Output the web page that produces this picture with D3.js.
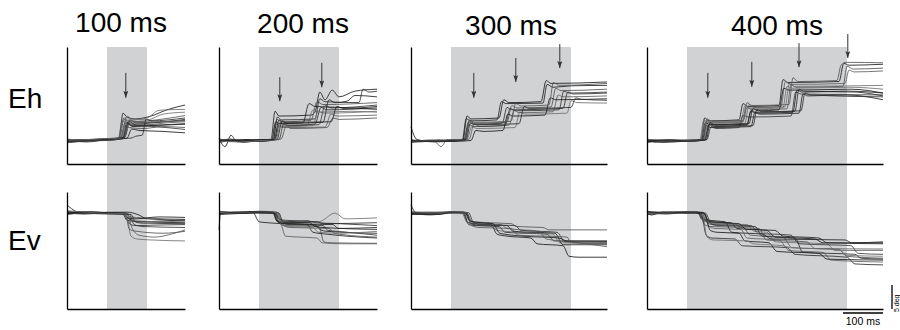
<!DOCTYPE html>
<html>
<head>
<meta charset="utf-8">
<script src="https://cdn.jsdelivr.net/npm/d3@7"></script>
<style>
  body { margin: 0; background: #fff; }
  svg { display: block; font-family: "Liberation Sans", Arial, sans-serif; }
  .trace { fill: none; stroke-width: 0.85; stroke-linejoin: round; }
  .axis path { stroke: #000; stroke-width: 1.3; }
</style>
</head>
<body>
<div id="chart"></div>
<script>
// stimulus durations (ms), one column of panels each
const durations = [100, 200, 300, 400];
const titles = ['100 ms', '200 ms', '300 ms', '400 ms'];
const rowLabels = ['Eh', 'Ev'];

// arrows: [time ms, top deg, bottom deg]
const arrows = [
  [[47, 14.2, 9.0]],
  [[52, 13.3, 8.3], [157, 16.3, 11.2]],
  [[57, 14.2, 9.0], [162, 17.3, 12.3], [272, 20.2, 15.2]],
  [[52, 14.2, 9.0], [162, 16.5, 11.3], [280, 20.4, 15.4], [402, 22.3, 17.3]]
];

// horizontal eye position (deg), traces as [ms, deg]
const eh100 = [
  [[-100,-0.3],[-50,0],[0,0.2],[30,0.6],[40,5.8],[50,5.0],[70,4.6],[110,5.2],[150,6.5],[195,7.5]],
  [[-100,0],[-40,0.3],[0,0.4],[32,0.5],[42,4.5],[55,4],[100,4.2],[195,5.3]],
  [[-100,0.2],[-60,0.1],[0,0.5],[35,0.7],[46,4.0],[60,3.5],[120,3.8],[195,4.5]],
  [[-100,-0.2],[-30,0.1],[10,0.4],[38,0.8],[50,5.2],[62,4.6],[100,4.4],[140,5.6],[195,6.0]],
  [[-100,0.1],[-50,-0.2],[0,0.3],[40,0.5],[52,3.5],[65,3.0],[110,3.2],[195,3.5]],
  [[-100,-0.4],[-60,0],[0,0.1],[28,0.4],[38,4.2],[48,3.6],[100,3.4],[150,3.8],[195,4.0]],
  [[-100,0.3],[-20,0.2],[20,0.5],[45,0.8],[58,4.4],[70,3.8],[195,4.3]],
  [[-100,0],[-50,0.3],[0,0.2],[50,0.6],[62,2.5],[80,2.2],[140,2.0],[195,1.7]],
  [[-100,-0.1],[-40,0.2],[10,0.5],[35,0.6],[44,3.2],[55,2.8],[90,2.6],[140,3.0],[195,2.8]],
  [[-100,0.2],[-70,0],[0,0.4],[60,0.6],[72,1.0],[88,1.2],[98,4.6],[110,4.2],[195,4.8]],
  [[-100,0],[-30,0.3],[15,0.2],[36,0.6],[48,5.0],[58,4.4],[100,4.8],[130,6.4],[195,6.6]],
  [[-100,-0.2],[-50,0.1],[0,0.3],[40,0.7],[50,3.8],[62,3.2],[195,3.6]],
  [[-100,0.4],[-60,0.2],[-20,0.5],[30,0.5],[42,4.8],[52,4.3],[100,4.0],[195,4.2]],
  [[-100,0],[0,0.2],[42,0.6],[55,4.0],[75,3.2],[120,3.0],[195,2.4]]
];
const eh200 = [
  [[-100,0.5],[-85,-1.2],[-70,1.2],[-55,-0.2],[-30,0.3],[0,0],[30,0.2],[40,6.2],[50,5.2],[130,5.4],[140,6],[152,10.2],[165,8.6],[183,10.6],[200,9.2],[240,10.4],[295,10.8]],
  [[-100,0],[-60,0.2],[0,-0.1],[35,0.2],[45,4.5],[55,4.0],[130,4.3],[145,8.2],[160,7.6],[295,8.0]],
  [[-100,-0.2],[-40,0.1],[0,0.2],[40,0.3],[52,3.8],[65,3.3],[140,3.5],[155,7.0],[170,6.5],[295,6.9]],
  [[-100,0.3],[-50,0],[0,0.1],[30,0.4],[42,3.6],[55,3.0],[120,3.2],[135,6.5],[150,6.0],[230,6.2],[295,6.0]],
  [[-100,0],[-70,0.4],[-40,-0.3],[0,0.1],[45,0.3],[58,4.2],[70,3.7],[160,3.9],[175,8.6],[190,8.0],[220,8.3],[240,9.5],[295,9.2]],
  [[-100,-0.3],[-50,0.2],[0,0.2],[38,0.2],[48,3.2],[60,2.8],[165,2.9],[180,5.6],[195,5.2],[295,5.4]],
  [[-100,0.2],[0,0],[50,0.3],[62,3.6],[75,3.2],[150,3.4],[165,7.4],[180,6.9],[295,7.5]],
  [[-100,0],[-30,0.3],[0,0],[32,0.1],[42,4.0],[52,3.6],[110,3.8],[125,7.8],[140,7.2],[200,7.0],[295,6.6]],
  [[-100,0.4],[-60,0.1],[0,0.2],[55,0.4],[68,3.0],[80,2.6],[170,2.8],[185,4.8],[200,4.5],[295,4.8]],
  [[-100,-0.1],[-20,0.2],[36,0.3],[46,5.0],[56,4.4],[140,4.6],[152,8.8],[165,8.2],[250,8.0],[260,10.8],[275,10.2],[295,10.4]],
  [[-100,0],[-50,-0.2],[0,0.1],[42,0.2],[54,3.4],[66,3.0],[135,3.2],[148,6.2],[162,5.8],[295,6.2]],
  [[-100,0.2],[-40,0],[0,0.3],[38,0.3],[50,4.4],[62,3.9],[180,4.0],[195,7.2],[210,6.8],[295,7.2]]
];
const eh300 = [
  [[-100,2.9],[-85,0.3],[-60,0],[-30,0.2],[0,0],[30,0.2],[40,5.2],[50,4.6],[120,4.8],[132,8.6],[145,8.0],[225,8.2],[238,12.6],[250,12.0],[390,12.3]],
  [[-100,0],[-40,-0.2],[-25,-1.2],[-10,0.2],[35,0.1],[46,4.2],[58,3.7],[140,3.9],[152,7.4],[165,6.9],[250,7.1],[262,11.0],[275,10.5],[390,10.8]],
  [[-100,-0.2],[-50,0.2],[0,0],[32,0.2],[44,4.0],[55,3.5],[128,3.7],[140,7.0],[152,6.5],[280,6.8],[292,10.2],[305,9.8],[390,10.0]],
  [[-100,0.2],[-60,-0.1],[0,0.1],[40,0.3],[52,3.0],[64,2.6],[160,2.8],[172,6.0],[185,5.6],[290,5.8],[300,8.4],[315,8.0],[390,7.9]],
  [[-100,0],[-50,0.1],[0,0.2],[28,0.1],[38,4.6],[50,4.2],[115,4.4],[126,8.2],[138,7.8],[230,7.9],[240,11.8],[255,11.2],[300,11.5],[390,11.6]],
  [[-100,0.1],[-30,-0.2],[0,0],[45,0.3],[58,3.6],[70,3.1],[145,3.3],[158,6.4],[170,5.9],[255,6.1],[268,9.6],[280,9.2],[390,9.4]],
  [[-100,-0.3],[-40,0],[0,0.2],[34,0.2],[45,3.4],[58,3.0],[135,3.2],[148,6.8],[160,6.3],[270,6.5],[282,10.4],[295,10.0],[390,10.2]],
  [[-100,0.2],[-60,0],[0,-0.1],[50,0.1],[62,2.2],[80,2.0],[130,2.2],[142,5.6],[155,5.2],[235,5.4],[248,9.0],[262,8.6],[390,8.8]],
  [[-100,0],[-20,0.1],[36,0.2],[46,4.4],[58,3.9],[150,4.1],[162,7.8],[175,7.3],[245,7.5],[256,12.2],[270,11.6],[390,12.0]],
  [[-100,0.1],[-50,-0.1],[0,0.1],[38,0.3],[49,3.8],[60,3.4],[170,3.6],[183,7.2],[195,6.8],[300,7.0],[312,9.0],[325,8.7],[390,8.5]]
];
const eh400 = [
  [[-100,0.3],[-80,-0.2],[-50,0.2],[0,0],[35,0.1],[44,4.8],[55,4.2],[130,4.4],[140,7.8],[152,7.2],[230,7.4],[240,12.8],[252,12.2],[380,12.4],[392,16.2],[405,15.8],[490,16.0]],
  [[-100,-0.4],[-60,0.1],[0,0.1],[40,0.2],[50,4.2],[62,3.8],[140,4.0],[150,7.0],[162,6.5],[250,6.7],[260,11.8],[272,11.2],[390,11.4],[400,15.6],[415,15.0],[490,15.2]],
  [[-100,0.2],[-40,0],[0,-0.1],[45,0.2],[56,3.6],[68,3.1],[150,3.3],[160,6.4],[172,6.0],[270,6.2],[280,10.8],[292,10.4],[420,10.2],[490,9.4]],
  [[-100,0],[-60,0.2],[0,0.2],[32,0.2],[42,4.4],[52,3.9],[135,4.1],[145,7.4],[158,6.9],[245,7.1],[256,12.0],[268,11.4],[490,11.6]],
  [[-100,0.4],[-50,-0.1],[0,0.1],[38,0.1],[48,3.2],[60,2.8],[160,3.0],[170,6.0],[182,5.6],[280,5.8],[290,9.8],[302,9.4],[400,9.6],[490,8.6]],
  [[-100,-0.2],[-30,0.2],[0,0],[42,0.3],[53,4.0],[64,3.5],[145,3.7],[155,7.6],[167,7.0],[235,7.2],[246,12.4],[258,11.8],[395,12.0],[405,14.8],[418,14.4],[490,14.6]],
  [[-100,0.1],[-50,0],[0,0.2],[50,0.3],[60,3.0],[72,2.6],[130,2.8],[140,5.4],[152,5.0],[260,5.2],[272,10.2],[285,9.8],[490,9.6]],
  [[-100,0],[-60,-0.3],[0,0],[36,0.2],[46,3.8],[58,3.4],[155,3.6],[165,6.8],[178,6.3],[230,6.5],[242,11.0],[255,10.6],[410,10.8],[490,10.0]],
  [[-100,0.2],[-40,0.1],[0,0],[40,0.2],[50,4.6],[62,4.1],[140,4.3],[150,8.0],[162,7.4],[255,7.6],[265,13.2],[277,12.4],[375,12.6],[385,15.8],[398,16.4],[490,16.3]],
  [[-100,-0.1],[-50,0.2],[0,0.1],[44,0.3],[55,3.4],[67,3.0],[165,3.2],[175,6.6],[188,6.1],[285,6.3],[295,10.0],[308,9.6],[490,9.2]],
  [[-100,0.3],[0,0.1],[34,0.1],[44,4.2],[56,3.7],[138,3.9],[148,7.2],[160,6.7],[240,6.9],[250,11.4],[262,11.0],[410,11.2],[490,10.8]],
  [[-100,0],[-40,0.2],[0,0],[48,0.2],[58,3.8],[70,3.3],[150,3.5],[160,6.2],[172,5.8],[265,6.0],[275,10.6],[288,10.2],[400,10.4],[490,10.0]]
];

// vertical eye position (deg)
const ev100 = [
  [[-100,1.7],[-70,0.2],[0,0],[40,-0.1],[55,-1.2],[80,-1.8],[195,-2.0]],
  [[-100,0],[-40,0.2],[0,0.1],[45,0],[58,-0.8],[90,-1.0],[195,-1.3]],
  [[-100,0.3],[-50,0],[0,-0.2],[42,-0.2],[56,-2.2],[70,-2.6],[120,-2.5],[195,-2.4]],
  [[-100,-0.2],[-30,0.1],[0,0],[48,-0.1],[60,-4.8],[75,-5.4],[110,-5.6],[195,-5.8]],
  [[-100,0.1],[-60,-0.2],[0,0],[38,0],[50,-1.5],[80,-1.8],[150,-1.6],[195,-1.4]],
  [[-100,0.4],[-40,0],[10,0.1],[50,0],[62,-3.0],[80,-4.6],[120,-5.0],[160,-4.4],[195,-3.5]],
  [[-100,-0.3],[-50,0.1],[0,-0.1],[55,-0.2],[68,-2.4],[90,-2.8],[195,-3.0]],
  [[-100,0.2],[0,0.1],[40,0],[52,-1.0],[70,-1.2],[130,-0.8],[195,-0.9]],
  [[-100,0],[-50,-0.1],[0,0.2],[45,0.1],[56,-3.4],[75,-3.8],[140,-4.2],[195,-3.8]],
  [[-100,-0.1],[-20,0],[30,-0.2],[60,-0.3],[72,-1.9],[90,-2.1],[195,-2.2]],
  [[-100,0.5],[-60,0.2],[0,0],[44,-0.1],[54,-2.0],[66,-1.6],[120,-1.8],[195,-1.7]],
  [[-100,0],[-40,0.3],[0,0.1],[50,0.2],[80,-0.4],[100,-1.2],[195,-1.5]]
];
const ev200 = [
  [[-100,-3.5],[-96,0.1],[-60,0],[0,0.2],[36,0.1],[46,-1.8],[60,-2.2],[140,-2.4],[152,-3.4],[170,-3.8],[295,-4.2]],
  [[-100,0],[-50,0.2],[0,0.3],[40,0.2],[52,-2.2],[65,-2.6],[150,-2.8],[162,-6.0],[180,-6.2],[295,-6.3]],
  [[-100,0.2],[-40,0],[0,0.1],[42,0],[54,-1.4],[70,-1.8],[120,-1.6],[140,-2.0],[200,-2.2],[295,-2.6]],
  [[-100,-0.2],[-60,0.1],[-10,0.2],[38,0.2],[50,-1.6],[70,-2.0],[150,-1.8],[190,0.0],[215,-1.2],[295,-1.0]],
  [[-100,0.4],[-50,0],[-15,0.1],[0,-1.8],[20,-2.0],[60,-2.2],[120,-2.4],[135,-4.0],[170,-4.4],[295,-5.2]],
  [[-100,0],[-30,0.2],[0,0.4],[45,0.2],[58,-3.0],[66,-4.8],[100,-5.0],[145,-5.2],[158,-6.2],[210,-6.4],[295,-6.4]],
  [[-100,0.1],[-40,-0.1],[0,0.2],[48,0.1],[60,-2.0],[75,-2.4],[160,-2.6],[172,-3.6],[195,-3.8],[295,-4.6]],
  [[-100,-0.1],[-60,0.2],[0,0.3],[34,0.2],[44,-1.6],[58,-1.9],[128,-2.0],[140,-2.8],[160,-3.0],[295,-3.4]],
  [[-100,0.3],[0,0.1],[50,0],[62,-2.6],[78,-3.0],[175,-3.2],[188,-4.2],[210,-4.5],[295,-5.0]],
  [[-100,0],[-50,0.1],[0,0],[40,-0.1],[50,-1.2],[65,-1.5],[145,-1.8],[160,-2.2],[295,-2.0]],
  [[-100,0.2],[-70,-0.1],[0,0.2],[44,0.2],[56,-2.4],[70,-2.8],[135,-3.0],[148,-4.0],[200,-4.2],[295,-3.8]],
  [[-100,-0.3],[-30,0],[0,0.1],[38,0],[48,-1.8],[62,-2.2],[185,-2.4],[198,-3.2],[295,-3.0]]
];
const ev300 = [
  [[-100,1.7],[-88,0.1],[-60,-0.3],[-30,0],[0,0.1],[30,0],[42,-2.0],[60,-2.2],[100,-2.4],[115,-4.4],[140,-4.8],[200,-5.2],[215,-6.4],[280,-6.8],[295,-9.0],[320,-9.2],[390,-9.2]],
  [[-100,0],[-50,-0.4],[0,0.2],[36,0.2],[48,-1.6],[70,-1.9],[150,-2.2],[165,-2.8],[230,-3.0],[245,-3.5],[390,-3.5]],
  [[-100,-0.2],[-40,0],[0,0.3],[32,0.2],[44,-2.4],[60,-2.6],[120,-2.8],[135,-4.0],[240,-4.4],[258,-5.8],[390,-5.9]],
  [[-100,0.1],[-60,-0.2],[0,0.1],[40,0],[52,-1.8],[70,-2.0],[95,-2.2],[115,-3.6],[170,-4.0],[255,-4.4],[272,-6.2],[390,-6.3]],
  [[-100,-0.3],[-20,0],[20,0.1],[38,0],[50,-2.2],[65,-2.5],[140,-2.6],[155,-3.8],[260,-4.2],[280,-6.6],[390,-6.6]],
  [[-100,0.2],[-50,0],[0,0],[28,-0.1],[40,-1.9],[55,-2.1],[125,-2.4],[140,-3.2],[220,-3.8],[238,-5.4],[300,-6.0],[390,-7.0]],
  [[-100,0],[-60,0.2],[0,0.2],[44,0.1],[56,-2.0],[75,-2.4],[160,-2.6],[175,-3.6],[265,-4.0],[285,-6.0],[390,-6.1]],
  [[-100,-0.1],[-30,-0.3],[0,0.1],[35,0.1],[46,-1.6],[62,-1.9],[105,-2.2],[122,-4.2],[180,-4.8],[270,-5.2],[290,-5.8],[390,-5.8]],
  [[-100,0.3],[-40,0.1],[0,0.2],[40,0.1],[52,-2.6],[68,-3.0],[150,-3.2],[168,-4.6],[290,-5.0],[300,-6.2],[390,-6.4]]
];
const ev400 = [
  [[-100,0.4],[-90,-0.4],[-60,0.2],[0,0],[25,0.3],[38,-1.4],[55,-1.8],[110,-2.0],[125,-3.2],[200,-3.6],[220,-5.0],[320,-5.4],[340,-6.2],[490,-6.2]],
  [[-100,0],[-50,0.2],[0,0.3],[30,0.2],[44,-2.4],[60,-2.8],[140,-3.0],[158,-4.6],[240,-5.0],[262,-7.2],[380,-7.6],[400,-9.0],[490,-9.4]],
  [[-100,-0.3],[-40,0.1],[0,0.2],[35,0.1],[48,-4.6],[62,-5.2],[120,-5.4],[138,-6.8],[250,-7.2],[270,-8.6],[400,-9.2],[420,-10.6],[490,-10.8]],
  [[-100,0.2],[-50,0],[0,0.3],[40,0.2],[52,-1.8],[70,-2.2],[150,-2.4],[168,-3.8],[200,-4.0],[220,-6.0],[350,-6.4],[370,-7.8],[490,-7.8]],
  [[-100,-0.2],[-60,0.1],[0,0.2],[28,0.1],[40,-1.2],[56,-1.5],[95,-1.8],[112,-4.0],[190,-4.4],[210,-5.4],[395,-5.6],[412,-6.2],[490,-6.0]],
  [[-100,0.3],[-20,0.1],[20,0.2],[42,0],[55,-2.8],[70,-3.2],[135,-3.4],[150,-5.2],[230,-5.6],[255,-7.8],[340,-8.2],[360,-9.8],[490,-10.2]],
  [[-100,0],[-50,-0.2],[0,0.1],[36,0.1],[50,-2.0],[65,-2.4],[160,-2.6],[178,-4.2],[260,-4.6],[280,-6.4],[410,-6.8],[428,-8.4],[490,-8.6]],
  [[-100,0.1],[-40,0.2],[0,0],[44,-0.1],[58,-3.6],[75,-4.0],[130,-4.2],[145,-5.8],[205,-6.2],[225,-8.0],[330,-8.4],[350,-9.6],[490,-9.8]],
  [[-100,-0.1],[-60,0],[0,0.2],[32,0.1],[45,-1.6],[60,-2.0],[118,-2.2],[135,-3.0],[180,-3.2],[198,-5.6],[300,-6.0],[320,-7.4],[490,-7.5]],
  [[-100,0.2],[-50,0.1],[0,0.1],[46,0],[60,-2.2],[78,-2.6],[170,-2.8],[188,-4.8],[270,-5.2],[290,-8.2],[420,-8.6],[435,-9.4],[490,-9.6]],
  [[-100,0],[-30,0.2],[10,0.2],[38,0.1],[50,-5.0],[66,-5.6],[150,-5.8],[165,-6.4],[240,-6.8],[258,-7.2],[380,-7.6],[398,-8.8],[490,-9.0]],
  [[-100,0.3],[-40,0],[0,0.2],[40,0.1],[54,-1.6],[70,-1.9],[130,-2.2],[148,-3.4],[220,-3.6],[240,-4.8],[330,-5.2],[350,-6.2],[490,-6.4]]
];

const ehTraces = [eh100, eh200, eh300, eh400];
const evTraces = [ev100, ev200, ev300, ev400];

const ehDomain = [-4.8, 19.6];
const evDomain = [-20, 4.4];
const scaleBarMs = 100;
const scaleBarDeg = 5;

// layout
const width = 900, height = 330;
const panelLeft = [67, 219, 411, 647];
const pxPerMs = 0.4;
const preMs = 100;
const postMs = [95, 95, 90, 90];
const ehRange = [164, 47];
const evRange = [309, 192];
const titleShift = [-6, 4, 0, 10];
const titleY = [32, 33, 35, 35];
const traceColors = ['#1b1b1b', '#555', '#2e2e2e', '#707070', '#222', '#606060', '#3a3a3a'];

const svg = d3.select('#chart')
  .append('svg')
  .attr('width', width)
  .attr('height', height);

// arrowhead pointing along +x, rotated to the line by orient=auto
svg.append('defs')
  .append('marker')
  .attr('id', 'head')
  .attr('viewBox', '0 0 7 5')
  .attr('refX', 7)
  .attr('refY', 2.5)
  .attr('markerWidth', 7)
  .attr('markerHeight', 5)
  .attr('markerUnits', 'userSpaceOnUse')
  .attr('orient', 'auto')
  .append('path')
  .attr('d', 'M0,0 L7,2.5 L0,5 L1.5,2.5 Z')
  .attr('fill', '#333');

const yEh = d3.scaleLinear().domain(ehDomain).range(ehRange);
const yEv = d3.scaleLinear().domain(evDomain).range(evRange);

let lastX;

durations.forEach((dur, i) => {
  const tEnd = dur + postMs[i];
  const x = d3.scaleLinear()
    .domain([-preMs, tEnd])
    .range([panelLeft[i], panelLeft[i] + pxPerMs * (tEnd + preMs)]);
  lastX = x;

  const g = svg.append('g').attr('class', 'panel');

  // stimulus period
  g.append('rect')
    .attr('x', x(0))
    .attr('y', ehRange[1])
    .attr('width', x(dur) - x(0))
    .attr('height', evRange[0] - ehRange[1])
    .attr('fill', '#d1d2d4');

  g.append('text')
    .attr('x', x(dur / 2) + titleShift[i])
    .attr('y', titleY[i])
    .attr('text-anchor', 'middle')
    .attr('font-size', 28)
    .text(titles[i]);

  [[ehTraces[i], yEh], [evTraces[i], yEv]].forEach(([traces, y]) => {
    const line = d3.line()
      .curve(d3.curveMonotoneX)
      .x(d => x(d[0]))
      .y(d => y(d[1]));

    g.append('g')
      .selectAll('path')
      .data(traces)
      .join('path')
      .attr('class', 'trace')
      .attr('stroke', (d, k) => traceColors[k % traceColors.length])
      .attr('d', line);

    g.append('g')
      .attr('class', 'axis')
      .attr('transform', `translate(${x(-preMs)},0)`)
      .call(d3.axisLeft(y).tickValues([]).tickSizeOuter(0));

    g.append('g')
      .attr('class', 'axis')
      .attr('transform', `translate(0,${y.range()[0]})`)
      .call(d3.axisBottom(x).tickValues([]).tickSizeOuter(0));
  });

  g.append('g')
    .selectAll('line')
    .data(arrows[i])
    .join('line')
    .attr('x1', d => x(d[0]))
    .attr('x2', d => x(d[0]))
    .attr('y1', d => yEh(d[1]))
    .attr('y2', d => yEh(d[2]))
    .attr('stroke', '#333')
    .attr('stroke-width', 1)
    .attr('marker-end', 'url(#head)');
});

svg.selectAll('.row-label')
  .data(rowLabels)
  .join('text')
  .attr('class', 'row-label')
  .attr('x', 8)
  .attr('y', (d, k) => k == 0 ? 108 : 250)
  .attr('font-size', 28)
  .text(d => d);

// scale bars
const tLast = lastX.domain()[1];
svg.append('line')
  .attr('x1', lastX(tLast - scaleBarMs))
  .attr('x2', lastX(tLast))
  .attr('y1', 313).attr('y2', 313)
  .attr('stroke', '#000')
  .attr('stroke-width', 1.3);

svg.append('text')
  .attr('x', (lastX(tLast - scaleBarMs) + lastX(tLast)) / 2)
  .attr('y', 325)
  .attr('text-anchor', 'middle')
  .attr('font-size', 10.5)
  .text('100 ms');

svg.append('line')
  .attr('x1', 892).attr('x2', 892)
  .attr('y1', yEv(evDomain[0]))
  .attr('y2', yEv(evDomain[0] + scaleBarDeg))
  .attr('stroke', '#000')
  .attr('stroke-width', 1.3);

svg.append('text')
  .attr('transform', `translate(899,${yEv(evDomain[0]) + 3}) rotate(-90)`)
  .attr('font-size', 7)
  .text('5 deg');
</script>
</body>
</html>
